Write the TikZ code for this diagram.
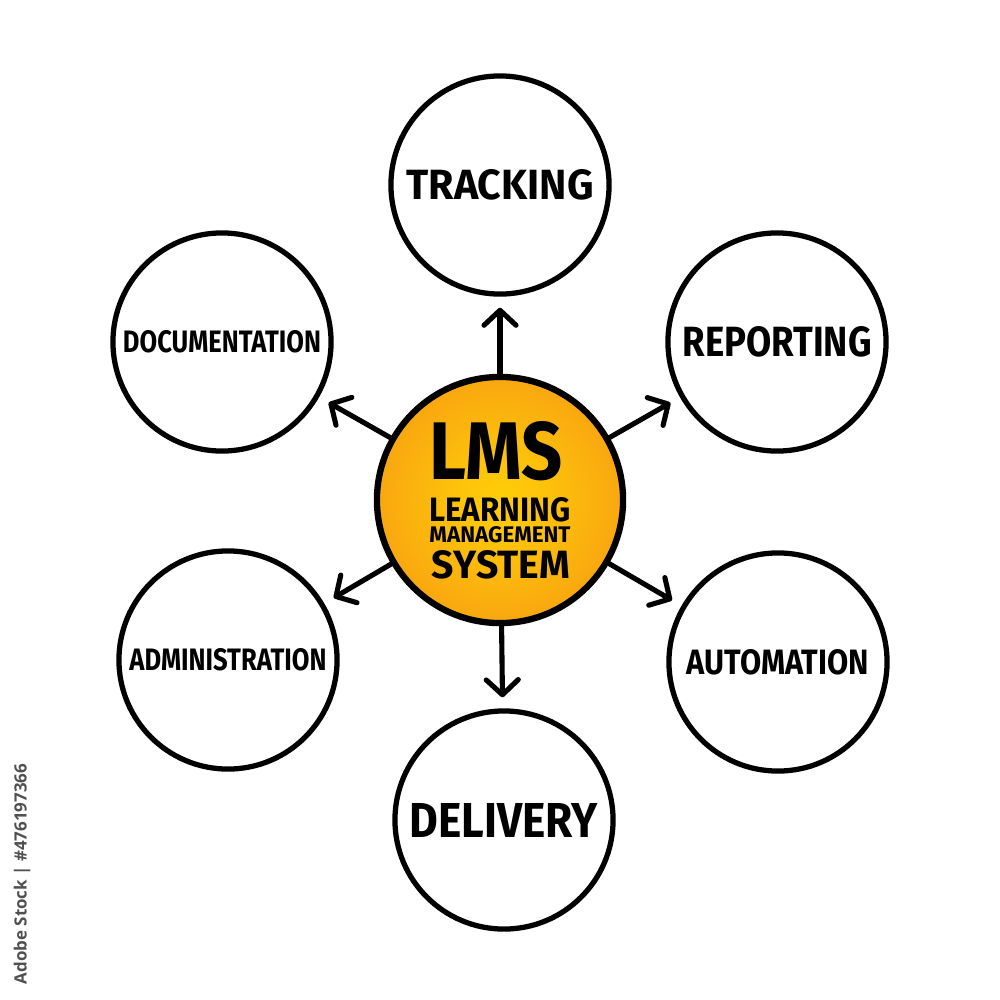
\documentclass[tikz,border=0pt]{standalone}
\usepackage{fontspec}
\setmainfont{Fira Sans}
\newfontfamily\wmfont{Open Sans}
\usetikzlibrary{arrows.meta}
\definecolor{hubY}{RGB}{255,206,8}
\definecolor{hubO}{RGB}{244,138,22}
\definecolor{wmgray}{RGB}{80,80,80}
\pgfdeclareradialshading{hubshade}{\pgfpoint{0bp}{0bp}}{color(0bp)=(hubY); color(8bp)=(hubY!85!hubO); color(30bp)=(hubY!30!hubO); color(42bp)=(hubO); color(50bp)=(hubO)}
\newcommand{\fitlbl}[3]{\resizebox{#1}{#2}{\bfseries #3}}
\begin{document}
\begin{tikzpicture}[x=0.01cm,y=-0.01cm,
  sat/.style={circle,draw=black,line width=1.5pt,minimum size=2.18cm,inner sep=0pt,fill=white},
  hub/.style={circle,draw=black,line width=1.8pt,minimum size=2.46cm,inner sep=0pt,shading=hubshade},
  conn/.style={-{Straight Barb[length=1.5mm,width=3.2mm,round]},line width=1.45pt,line cap=round,shorten >=1.1mm}]
\useasboundingbox[fill=white] (0,0) rectangle (1000,1000);

\node[hub] (c) at (500,500) {};
\node (lms) at (496,451) {\fitlbl{1.33cm}{0.58cm}{LMS}};
\node (l1) at (500,510) {\fitlbl{1.41cm}{0.24cm}{LEARNING}};
\node (l2) at (500,535) {\fitlbl{1.41cm}{0.16cm}{MANAGEMENT}};
\node (l3) at (501,565) {\fitlbl{1.38cm}{0.28cm}{SYSTEM}};

\node[sat] (t) at (500,185) {\fitlbl{1.87cm}{0.30cm}{TRACKING}};
\node[sat] (r) at (777,342) {\fitlbl{1.89cm}{0.30cm}{REPORTING}};
\node[sat] (a) at (778,662) {\fitlbl{1.82cm}{0.25cm}{AUTOMATION}};
\node[sat] (d) at (504,820) {\fitlbl{1.88cm}{0.34cm}{DELIVERY}};
\node[sat] (m) at (228,660) {\fitlbl{1.97cm}{0.22cm}{ADMINISTRATION}};
\node[sat] (o) at (222,342) {\fitlbl{1.98cm}{0.22cm}{DOCUMENTATION}};

\draw[conn] (c) -- (t);
\draw[conn] (c) -- (r);
\draw[conn] (c) -- (a);
\draw[conn] (c) -- (d);
\draw[conn] (c) -- (m);
\draw[conn] (c) -- (o);

\node[rotate=90,text=wmgray] (wm) at (22,874) {\resizebox{2.2cm}{!}{\wmfont\bfseries Adobe Stock | \#476197366}};
\end{tikzpicture}
\end{document}
